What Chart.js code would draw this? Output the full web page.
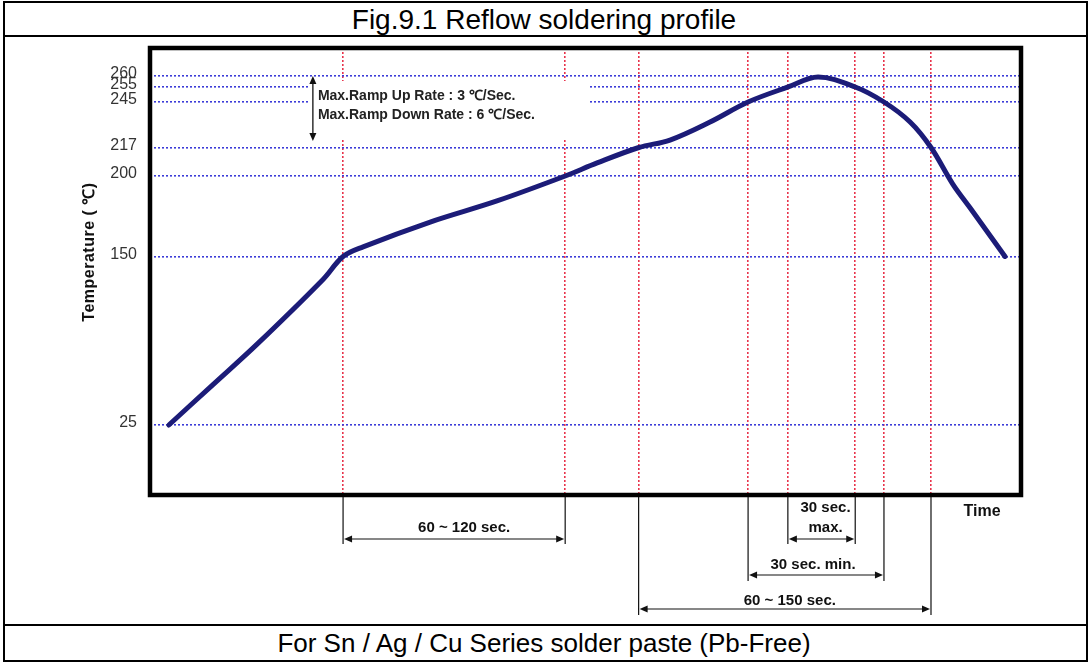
<!DOCTYPE html>
<html>
<head>
<meta charset="utf-8">
<script src="https://cdn.jsdelivr.net/npm/chart.js@4.4.1/dist/chart.umd.min.js"></script>
<style>
  html, body { margin: 0; padding: 0; background: #fff; }
  body { width: 1088px; height: 663px; position: relative; overflow: hidden; font-family: "Liberation Sans", Arial, sans-serif; }
  #sheet { position: absolute; left: 3px; top: 1px; width: 1085px; height: 661px; border: 2px solid #000; box-sizing: border-box; }
  .rule { position: absolute; left: 3px; width: 1085px; height: 2px; background: #000; }
  #title, #foot { position: absolute; left: 0; width: 1088px; text-align: center; color: #000; }
  #title { top: 3px; height: 33px; line-height: 33px; font-size: 28px; }
  #foot { top: 626px; height: 34px; line-height: 34px; font-size: 26px; }
  #chart { position: absolute; left: 0; top: 0; }
</style>
</head>
<body>
<div id="sheet"></div>
<div class="rule" style="top:35px"></div>
<div class="rule" style="top:624px"></div>
<div id="title">Fig.9.1 Reflow soldering profile</div>
<div id="foot">For Sn / Ag / Cu Series solder paste (Pb-Free)</div>
<canvas id="chart" width="1088" height="663"></canvas>
<script>
// profile: time (s, schematic) and temperature (°C)
const times = [6.5, 21.7, 36.9, 59.6, 66.5, 73.4, 96.5, 119.5, 143.0, 154.0, 168.4,
  179.1, 192.9, 206.0, 219.8, 230.1, 242.9, 252.8, 261.8, 269.0, 276.5, 282.5, 294.5];
const temps = [25, 55, 85, 133, 150, 156, 171.4, 184.5, 200, 207.8, 217,
  221.6, 232.7, 245, 255, 259.5, 255, 245, 232.7, 217, 195, 180.1, 150];

// temperature levels (blue dotted) and time markers (red dotted)
const tempTicks = [25, 150, 200, 217, 245, 255, 260];
const timeMarks = [66.5, 143, 168.3, 206, 219.7, 242.9, 252.8, 269];

// dimension spans under the axis
const spanLabels = [['60 ~ 120 sec.'], ['30 sec.', 'max.'], ['30 sec. min.'], ['60 ~ 150 sec.']];
const spanFrom = [66.5, 219.7, 206, 168.3];
const spanTo = [143, 242.9, 252.8, 269];

const rampNotes = ['Max.Ramp Up Rate : 3 \u2103/Sec.', 'Max.Ramp Down Rate : 6 \u2103/Sec.'];
const rampFrom = 260, rampTo = 221;

// the temperature axis in the drawing is not to scale, so it is piecewise linear
const axisVals = [-27, 25, 150, 200, 217, 245, 255, 260, 273];
const axisPos = [0, 0.1566, 0.5336, 0.7136, 0.7774, 0.8792, 0.9128, 0.9374, 1];

function interp(v, xs, ys) {
  let i = 1;
  while (i < xs.length - 1 && v > xs[i]) i++;
  const t = (v - xs[i - 1]) / (xs[i] - xs[i - 1]);
  return ys[i - 1] + t * (ys[i] - ys[i - 1]);
}

class WarpScale extends Chart.LinearScale {
  getPixelForValue(value) {
    return this.getPixelForDecimal(interp(value, axisVals, axisPos));
  }
  getValueForPixel(pixel) {
    return interp(this.getDecimalForPixel(pixel), axisPos, axisVals);
  }
}
WarpScale.id = 'warp';
WarpScale.defaults = Chart.LinearScale.defaults;
Chart.register(WarpScale);

// layout of the dimension rows (pixels)
const rows = [
  { arrowY: 539, extEnd: 544, textY: [528], dx: 10 },
  { arrowY: 539, extEnd: 544, textY: [508, 528], dx: 4 },
  { arrowY: 575, extEnd: 581, textY: [565], dx: -3 },
  { arrowY: 609, extEnd: 615, textY: [601], dx: 5 }
];

function head(ctx, x, y, dx, dy) {
  // filled arrow head with its tip at (x, y), pointing along (dx, dy)
  const len = 8, w = 3.5;
  ctx.beginPath();
  ctx.moveTo(x, y);
  ctx.lineTo(x - dx * len - dy * w, y - dy * len - dx * w);
  ctx.lineTo(x - dx * len + dy * w, y - dy * len + dx * w);
  ctx.closePath();
  ctx.fill();
}

const decor = {
  id: 'decor',
  beforeDatasetsDraw(chart) {
    const { ctx, scales: { x, y } } = chart;
    ctx.save();
    // note box hides the grid behind the ramp text
    ctx.fillStyle = '#fff';
    ctx.fillRect(x.getPixelForValue(55), 81, x.getPixelForValue(151.5) - x.getPixelForValue(55), 57);
    const ax = x.getPixelForValue(56.1);
    const y1 = y.getPixelForValue(rampFrom), y2 = y.getPixelForValue(rampTo);
    ctx.strokeStyle = '#111';
    ctx.fillStyle = '#111';
    ctx.lineWidth = 1.3;
    ctx.beginPath();
    ctx.moveTo(ax, y1 + 4);
    ctx.lineTo(ax, y2 - 4);
    ctx.stroke();
    head(ctx, ax, y1, 0, -1);
    head(ctx, ax, y2, 0, 1);
    ctx.fillStyle = '#222';
    ctx.font = 'bold 14px "Liberation Sans", Arial, sans-serif';
    ctx.textBaseline = 'middle';
    ctx.fillText(rampNotes[0], ax + 5, 96);
    ctx.fillText(rampNotes[1], ax + 5, 115);
    ctx.restore();
  },
  afterDatasetsDraw(chart) {
    const { ctx, chartArea: a } = chart;
    ctx.save();
    ctx.strokeStyle = '#000';
    ctx.lineWidth = 4.5;
    ctx.strokeRect(a.left, a.top, a.right - a.left, a.bottom - a.top);
    ctx.restore();
  },
  afterDraw(chart) {
    const { ctx, chartArea: a, scales: { x } } = chart;
    ctx.save();
    ctx.strokeStyle = '#111';
    ctx.fillStyle = '#111';
    ctx.lineWidth = 1.2;
    ctx.font = 'bold 15px "Liberation Sans", Arial, sans-serif';
    ctx.textAlign = 'center';
    ctx.textBaseline = 'middle';
    spanLabels.forEach((lab, i) => {
      const r = rows[i];
      const x1 = x.getPixelForValue(spanFrom[i]), x2 = x.getPixelForValue(spanTo[i]);
      ctx.beginPath();
      ctx.moveTo(x1, a.bottom + 2); ctx.lineTo(x1, r.extEnd);
      ctx.moveTo(x2, a.bottom + 2); ctx.lineTo(x2, r.extEnd);
      ctx.moveTo(x1 + 4, r.arrowY); ctx.lineTo(x2 - 4, r.arrowY);
      ctx.stroke();
      head(ctx, x1 + 1, r.arrowY, -1, 0);
      head(ctx, x2 - 1, r.arrowY, 1, 0);
      lab.forEach((t, j) => ctx.fillText(t, (x1 + x2) / 2 + r.dx, r.textY[j]));
    });
    ctx.font = 'bold 16px "Liberation Sans", Arial, sans-serif';
    ctx.fillText('Time', 982, 512);
    // axis title
    ctx.translate(90, 252);
    ctx.rotate(-Math.PI / 2);
    ctx.font = 'bold 16px "Liberation Sans", Arial, sans-serif';
    ctx.letterSpacing = '0.5px';
    ctx.fillText('Temperature ( \u2103)', 0, 0);
    ctx.restore();
  }
};

Chart.defaults.font.family = '"Liberation Sans", Arial, sans-serif';

new Chart(document.getElementById('chart'), {
  type: 'line',
  data: {
    datasets: [{
      data: times.map((t, i) => ({ x: t, y: temps[i] })),
      borderColor: '#1c1c78',
      borderWidth: 5,
      borderCapStyle: 'round',
      borderJoinStyle: 'round',
      pointRadius: 0,
      tension: 0.35,
      fill: false
    }]
  },
  options: {
    responsive: false,
    animation: false,
    layout: { padding: { left: 0, top: 48, right: 67, bottom: 168 } },
    plugins: { legend: { display: false }, tooltip: { enabled: false } },
    scales: {
      x: {
        type: 'linear',
        min: 0,
        max: 300,
        afterBuildTicks: s => { s.ticks = timeMarks.map(v => ({ value: v })); },
        afterFit: s => { s.height = 0; },
        ticks: { display: false },
        grid: { color: '#e8344c', lineWidth: 1.6, drawTicks: false },
        border: { display: false, dash: [2, 2] }
      },
      y: {
        type: 'warp',
        min: -27,
        max: 273,
        afterBuildTicks: s => { s.ticks = tempTicks.map(v => ({ value: v })); },
        afterFit: s => { s.width = 150; },
        ticks: { autoSkip: false, padding: 13, labelOffset: -2, color: '#333', font: { size: 16 } },
        grid: { color: '#3c3cd8', lineWidth: 1.6, drawTicks: false },
        border: { display: false, dash: [2, 2] }
      }
    }
  },
  plugins: [decor]
});
</script>
</body>
</html>
